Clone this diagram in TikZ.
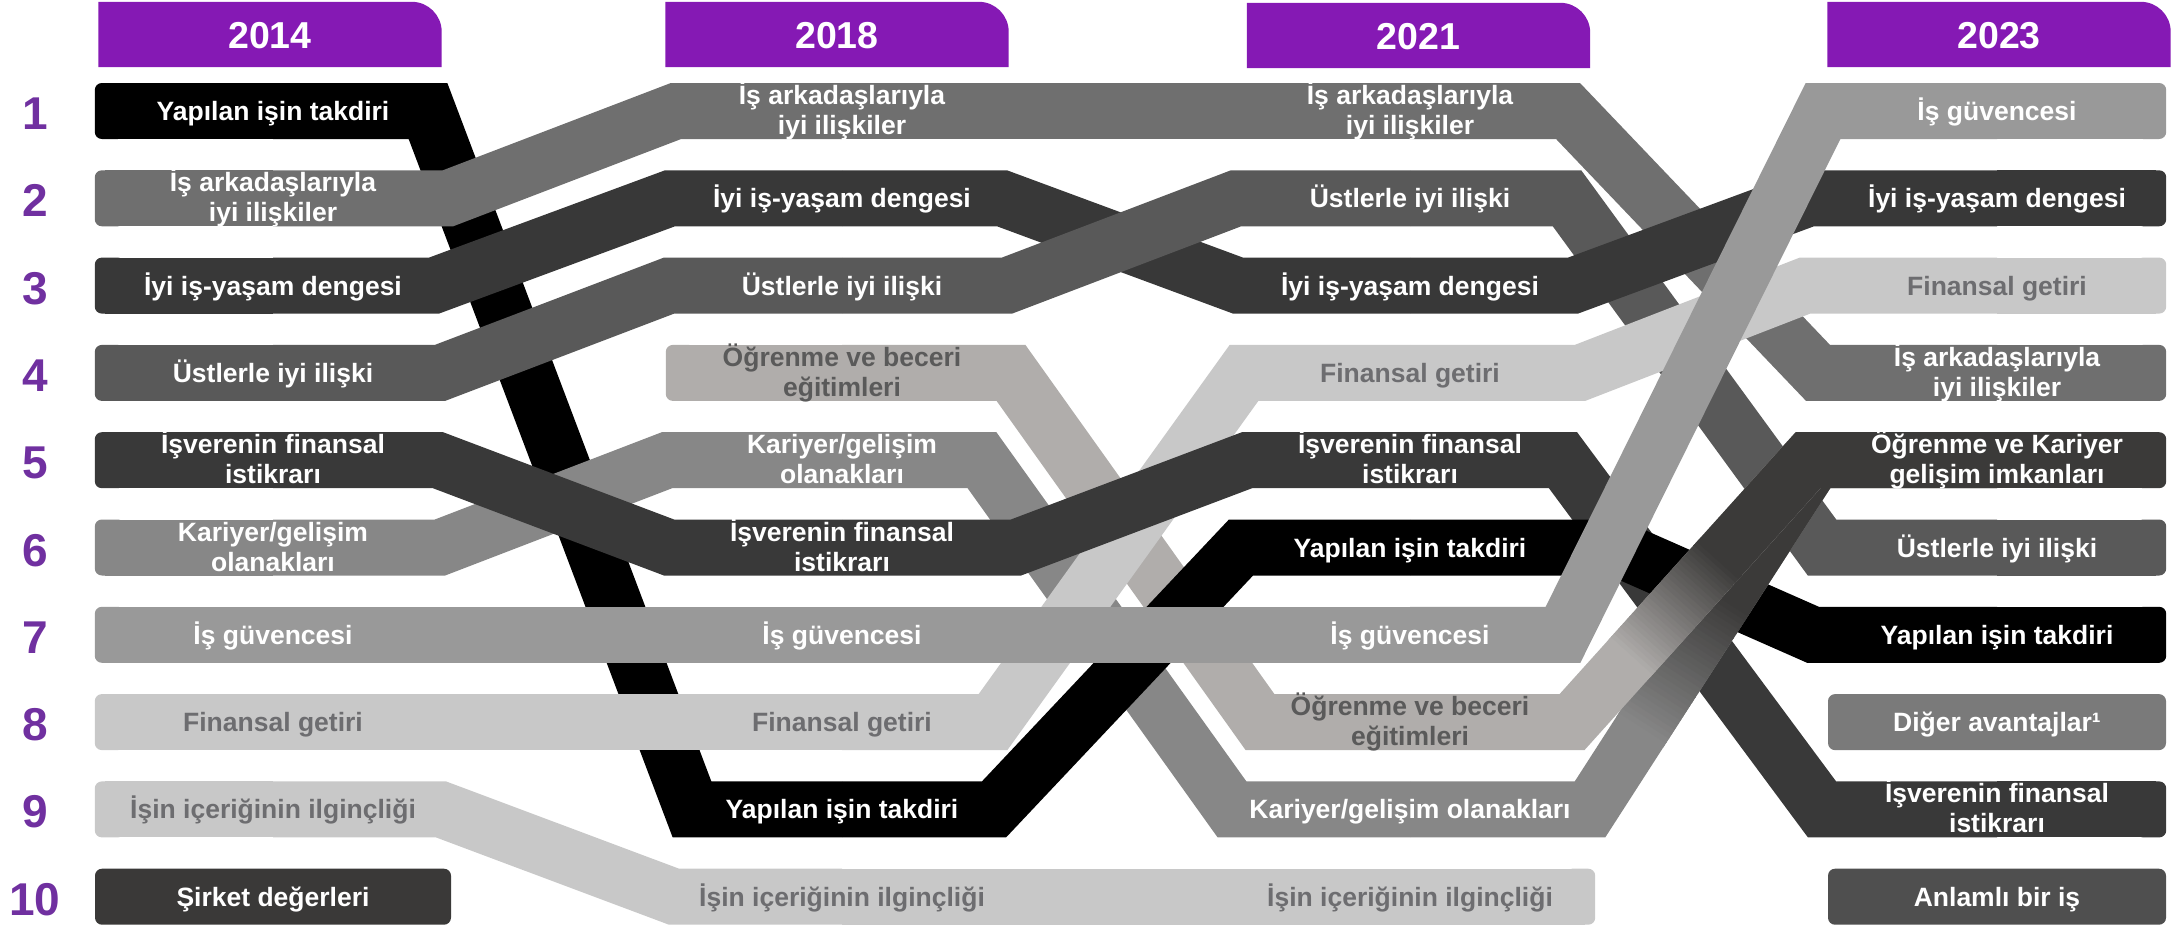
\documentclass[tikz,border=0pt]{standalone}
\usepackage{fontspec}
\setmainfont{Liberation Sans}
\usetikzlibrary{calc}
\definecolor{cHdr}{HTML}{8519B4}
\definecolor{cNum}{HTML}{7030A0}
\definecolor{cYap}{HTML}{000000}
\definecolor{cArk}{HTML}{6F6F6F}
\definecolor{cIyi}{HTML}{383838}
\definecolor{cUst}{HTML}{595959}
\definecolor{cIsv}{HTML}{393939}
\definecolor{cKar}{HTML}{878787}
\definecolor{cGuv}{HTML}{999999}
\definecolor{cFin}{HTML}{C8C8C8}
\definecolor{cSir}{HTML}{3A3938}
\definecolor{cOgr}{HTML}{B0ADAB}
\definecolor{cQ}{HTML}{3B3A39}
\definecolor{cDig}{HTML}{7A7A7A}
\definecolor{cAnl}{HTML}{4F4F4F}
\definecolor{cTxt}{HTML}{6D6D70}
\definecolor{cOgT}{HTML}{5A5A5A}
\pgfdeclarelayer{ribbons}
\pgfsetlayers{ribbons,main}
\newcommand{\twol}[2]{\raisebox{16pt}[0pt][0pt]{\begin{tabular}[t]{@{}c@{}}#1\\#2\end{tabular}}}
\newcommand{\ribseg}[5]{\draw[rib,#1] (#2.center) -- ([xshift=#3pt]#2.center) -- ([xshift=#5pt]#4.center) -- (#4.center);}
\newcommand{\ribflat}[3]{\draw[rib,#1] (#2.center) -- (#3.center);}
\newcommand{\ribL}[2]{\fill[#2,rounded corners=7pt] ([yshift=-28pt]#1.west) rectangle ([yshift=28pt,xshift=30pt]#1.west); \draw[rib,#2] ([xshift=10pt]#1.west) -- (#1.center);}
\newcommand{\ribR}[2]{\fill[#2,rounded corners=7pt] ([yshift=-28pt,xshift=-30pt]#1.east) rectangle ([yshift=28pt]#1.east); \draw[rib,#2] (#1.center) -- ([xshift=-10pt]#1.east);}
\begin{document}
\begin{tikzpicture}[x=1pt,y=-1pt,
  lab/.style={font=\bfseries\fontsize{26.5pt}{30pt}\selectfont, text=white, minimum height=56pt, inner sep=0pt, text height=19pt, text depth=0pt},
  c1/.style={lab, minimum width=356pt},
  c2/.style={lab, minimum width=352pt},
  c3/.style={lab, minimum width=370pt},
  c4/.style={lab, minimum width=338pt},
  rib/.style={line width=56pt, line join=miter, line cap=butt},
  hdr/.style={font=\bfseries\fontsize{37.5pt}{40pt}\selectfont, text=white, inner sep=0pt, minimum width=343pt, minimum height=65pt, text height=27pt, text depth=0pt},
  num/.style={font=\bfseries\fontsize{46pt}{48pt}\selectfont, text=cNum, inner sep=0pt, text height=33pt, text depth=0pt}]
\useasboundingbox (0,0) rectangle (2177,926);

% headers
\node[hdr] (h14) at (270,34.5) {2014};
\node[hdr] (h18) at (837,34.5) {2018};
\node[hdr] (h21) at (1418.5,35.5) {2021};
\node[hdr] (h23) at (1999,34.5) {2023};

% rank numbers
\node[num] (n1) at (35,113) {1};
\node[num] (n2) at (35,200.3) {2};
\node[num] (n3) at (35,287.6) {3};
\node[num] (n4) at (35,374.9) {4};
\node[num] (n5) at (35,462.2) {5};
\node[num] (n6) at (35,549.5) {6};
\node[num] (n7) at (35,636.8) {7};
\node[num] (n8) at (35,724.1) {8};
\node[num] (n9) at (35,811.4) {9};
\node[num] (n10) at (35,898.7) {10};

% 2014
\node[c1] (Y14) at (273,111) {Yapılan işin takdiri};
\node[c1] (A14) at (273,198.3) {\twol{İş arkadaşlarıyla}{iyi ilişkiler}};
\node[c1] (I14) at (273,285.6) {İyi iş-yaşam dengesi};
\node[c1] (U14) at (273,372.9) {Üstlerle iyi ilişki};
\node[c1] (V14) at (273,460.2) {\twol{İşverenin finansal}{istikrarı}};
\node[c1] (K14) at (273,547.5) {\twol{Kariyer/gelişim}{olanakları}};
\node[c1] (G14) at (273,634.8) {İş güvencesi};
\node[c1,text=cTxt] (F14) at (273,722.1) {Finansal getiri};
\node[c1,text=cTxt] (C14) at (273,809.4) {İşin içeriğinin ilginçliği};
\node[c1,fill=cSir,rounded corners=7pt] (S14) at (273,896.7) {Şirket değerleri};

% 2018
\node[c2] (A18) at (842,111) {\twol{İş arkadaşlarıyla}{iyi ilişkiler}};
\node[c2] (I18) at (842,198.3) {İyi iş-yaşam dengesi};
\node[c2] (U18) at (842,285.6) {Üstlerle iyi ilişki};
\node[c2,text=cOgT] (O18) at (842,372.9) {\twol{Öğrenme ve beceri}{eğitimleri}};
\node[c2] (K18) at (842,460.2) {\twol{Kariyer/gelişim}{olanakları}};
\node[c2] (V18) at (842,547.5) {\twol{İşverenin finansal}{istikrarı}};
\node[c2] (G18) at (842,634.8) {İş güvencesi};
\node[c2,text=cTxt] (F18) at (842,722.1) {Finansal getiri};
\node[c2] (Y18) at (842,809.4) {Yapılan işin takdiri};
\node[c2,text=cTxt] (C18) at (842,896.7) {İşin içeriğinin ilginçliği};

% 2021
\node[c3] (A21) at (1410,111) {\twol{İş arkadaşlarıyla}{iyi ilişkiler}};
\node[c3] (U21) at (1410,198.3) {Üstlerle iyi ilişki};
\node[c3] (I21) at (1410,285.6) {İyi iş-yaşam dengesi};
\node[c3,text=cTxt] (F21) at (1410,372.9) {Finansal getiri};
\node[c3] (V21) at (1410,460.2) {\twol{İşverenin finansal}{istikrarı}};
\node[c3] (Y21) at (1410,547.5) {Yapılan işin takdiri};
\node[c3] (G21) at (1410,634.8) {İş güvencesi};
\node[c3,text=cOgT] (O21) at (1410,722.1) {\twol{Öğrenme ve beceri}{eğitimleri}};
\node[c3] (K21) at (1410,809.4) {Kariyer/gelişim olanakları};
\node[c3,text=cTxt] (C21) at (1410,896.7) {İşin içeriğinin ilginçliği};

% 2023
\node[c4] (G23) at (1997,111) {İş güvencesi};
\node[c4] (I23) at (1997,198.3) {İyi iş-yaşam dengesi};
\node[c4,text=cTxt] (F23) at (1997,285.6) {Finansal getiri};
\node[c4] (A23) at (1997,372.9) {\twol{İş arkadaşlarıyla}{iyi ilişkiler}};
\node[c4] (Q23) at (1997,460.2) {\twol{Öğrenme ve Kariyer}{gelişim imkanları}};
\node[c4] (U23) at (1997,547.5) {Üstlerle iyi ilişki};
\node[c4] (Y23) at (1997,634.8) {Yapılan işin takdiri};
\node[c4,fill=cDig,rounded corners=7pt] (D23) at (1997,722.1) {Diğer avantajlar¹};
\node[c4] (V23) at (1997,809.4) {\twol{İşverenin finansal}{istikrarı}};
\node[c4,fill=cAnl,rounded corners=7pt] (N23) at (1997,896.7) {Anlamlı bir iş};

\begin{pgfonlayer}{ribbons}
% header shapes
\foreach \h in {h14,h18,h21,h23}{
  \fill[cHdr] (\h.south west) -- (\h.north west) -- ([xshift=-30pt]\h.north east) arc[start angle=90,end angle=0,radius=30pt] -- (\h.south east) -- cycle;
}
% left free ends
\ribL{Y14}{cYap}
\ribL{A14}{cArk}
\ribL{I14}{cIyi}
\ribL{U14}{cUst}
\ribL{V14}{cIsv}
\ribL{K14}{cKar}
\ribL{G14}{cGuv}
\ribL{F14}{cFin}
\ribL{C14}{cFin}
\ribL{O18}{cOgr}

% gap 2014 -> 2018
\ribseg{cYap}{Y14}{155}{Y18}{-150}
\ribseg{cKar}{K14}{167}{K18}{-175}
\ribseg{cIsv}{V14}{165}{V18}{-173}
\ribseg{cUst}{U14}{167}{U18}{-173}
\ribseg{cIyi}{I14}{161}{I18}{-172}
\ribseg{cArk}{A14}{175}{A18}{-166}
\ribflat{cGuv}{G14}{G18}
\ribflat{cFin}{F14}{F18}
\ribseg{cFin}{C14}{168}{C18}{-168}

% gap 2018 -> 2021
\ribseg{cIyi}{I18}{160}{I21}{-172}
\ribseg{cUst}{U18}{165}{U21}{-174}
\ribseg{cKar}{K18}{140}{K21}{-178}
\ribseg{cOgr}{O18}{169}{O21}{-150}
\ribseg{cFin}{F18}{151}{F21}{-166}
\ribseg{cIsv}{V18}{174}{V21}{-163}
\ribseg{cYap}{Y18}{152}{Y21}{-169}
\ribflat{cArk}{A18}{A21}
\ribflat{cGuv}{G18}{G21}
\ribflat{cFin}{C18}{C21}

% gap 2021 -> 2023
\ribseg{cArk}{A21}{158}{A23}{-179}
\ribseg{cUst}{U21}{157}{U23}{-175}
\ribseg{cIyi}{I21}{163}{I23}{-188}
\ribseg{cFin}{F21}{170}{F23}{-192}
\ribseg{cIsv}{V21}{153}{V23}{-175}
\ribseg{cYap}{Y21}{205}{Y23}{-184}
% gradient ribbons into "Öğrenme ve Kariyer"
\coordinate (kb) at ([xshift=180pt]K21.center);
\coordinate (kc) at ([xshift=-182pt]Q23.center);
\draw[rib,cKar] (K21.center) -- (kb) -- (kc);
\draw[rib,cQ] ($(kb)!0.55!(kc)$) -- (kc) -- (Q23.center);
\foreach \i in {0,...,29}{
  \pgfmathsetmacro\ta{0.22+\i*0.013}
  \pgfmathsetmacro\tb{\ta+0.015}
  \pgfmathtruncatemacro\p{round(\i*100/29)}
  \draw[rib,cQ!\p!cKar] ($(kb)!\ta!(kc)$) -- ($(kb)!\tb!(kc)$);
}
\coordinate (ob) at ([xshift=162pt]O21.center);
\coordinate (oc) at ([xshift=-189pt]Q23.center);
\draw[rib,cOgr] (O21.center) -- (ob) -- (oc);
\draw[rib,cQ] ($(ob)!0.6!(oc)$) -- (oc) -- (Q23.center);
\foreach \i in {0,...,29}{
  \pgfmathsetmacro\ta{0.24+\i*0.013}
  \pgfmathsetmacro\tb{\ta+0.015}
  \pgfmathtruncatemacro\p{round(\i*100/29)}
  \draw[rib,cQ!\p!cOgr] ($(ob)!\ta!(oc)$) -- ($(ob)!\tb!(oc)$);
}
\ribseg{cGuv}{G21}{153}{G23}{-174}

% right free ends
\ribR{C21}{cFin}
\ribR{G23}{cGuv}
\ribR{I23}{cIyi}
\ribR{F23}{cFin}
\ribR{A23}{cArk}
\ribR{Q23}{cQ}
\ribR{U23}{cUst}
\ribR{Y23}{cYap}
\ribR{V23}{cIsv}
\end{pgfonlayer}
\end{tikzpicture}
\end{document}
